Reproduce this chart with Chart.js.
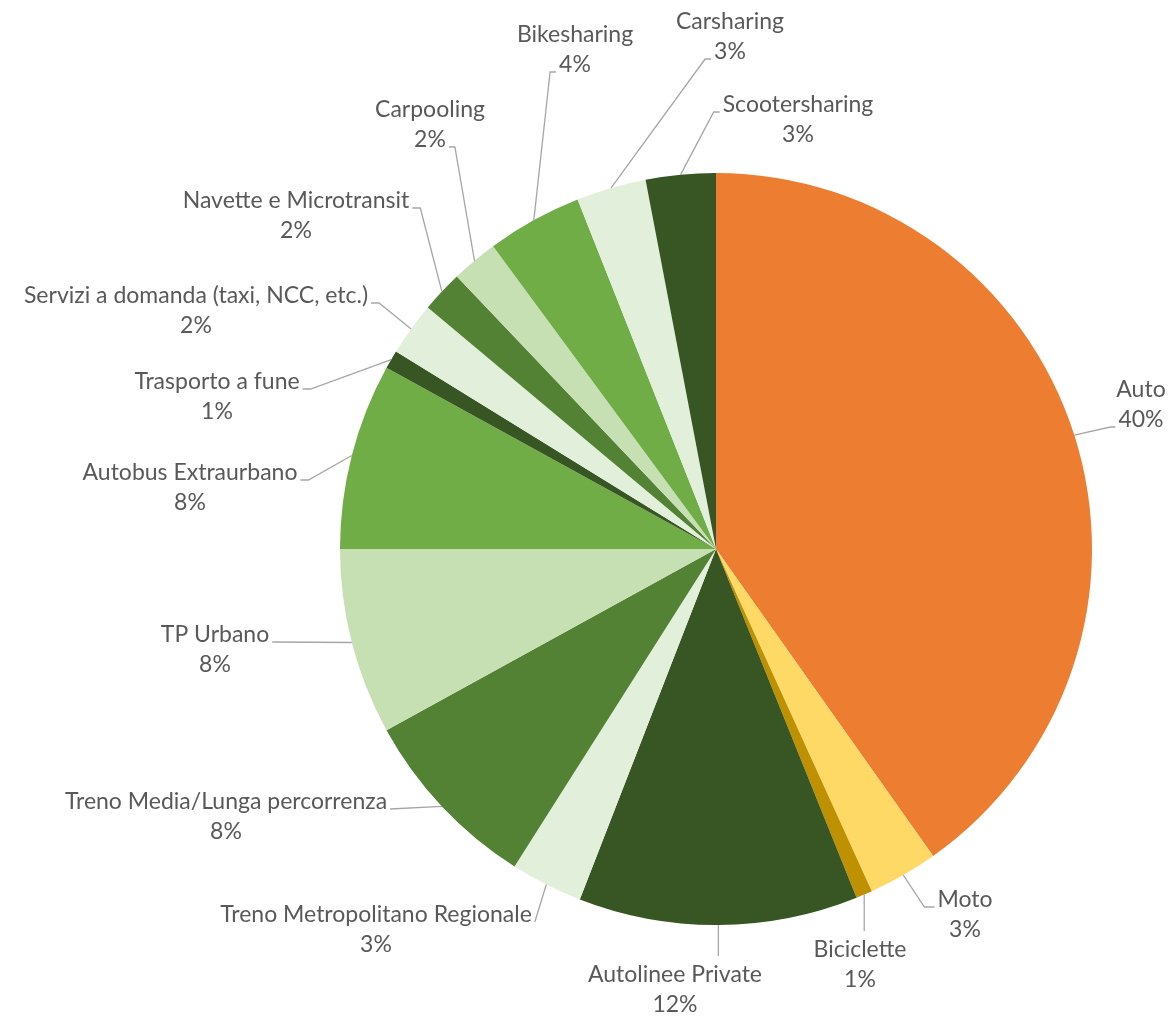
<!DOCTYPE html>
<html>
<head>
<meta charset="utf-8">
<script src="https://cdn.jsdelivr.net/npm/chart.js@4.4.0/dist/chart.umd.min.js"></script>
<style>
  html, body { margin: 0; padding: 0; background: #ffffff; }
  #chartBox { width: 1168px; height: 1016px; }
</style>
</head>
<body>
<div id="chartBox"><canvas id="pieChart" width="1168" height="1016"></canvas></div>
<script>
// Ripartizione modale
const categories = [
    "Auto", "Moto", "Biciclette", "Autolinee Private", "Treno Metropolitano Regionale",
    "Treno Media/Lunga percorrenza", "TP Urbano", "Autobus Extraurbano", "Trasporto a fune",
    "Servizi a domanda (taxi, NCC, etc.)", "Navette e Microtransit", "Carpooling",
    "Bikesharing", "Carsharing", "Scootersharing"
];
const shares = [40.2, 3.0, 0.7, 12.0, 3.1, 8.0, 8.0, 8.0, 0.8, 2.3, 1.8, 2.0, 4.1, 3.0, 3.0];
const sliceColors = [
    "#ED7D31", "#FFD966", "#BF9000", "#375623", "#E2EFDA",
    "#548235", "#C6E0B4", "#70AD47", "#375623", "#E2EFDA",
    "#548235", "#C6E0B4", "#70AD47", "#E2EFDA", "#375623"
];

// posizione etichette: [dx, dy dal centro della torta, lato attacco, riga, gomito]
const labelLayout = [
    [425, -159, "l", 1, 5],
    [249, 351, "l", 0, 10],
    [144, 401, "t", 0, 0],
    [-41, 426, "t", 0, 0],
    [-340, 366, "r", 0, 0],
    [-490, 253, "r", 0, 0],
    [-501, 86, "r", 0, 0],
    [-526, -76, "r", 0, 8],
    [-499, -167, "r", 0, 8],
    [-520, -253, "r", 0, 8],
    [-420, -348, "r", 0, 8],
    [-286, -439, "r", 1, 6],
    [-141, -514, "l", 1, 6],
    [14, -527, "l", 1, 6],
    [82, -444, "l", 0, 6]
];
const lineGap = 30;

// Etichette con linee guida, stile Excel
const leaderLabels = {
    id: "leaderLabels",
    afterDatasetsDraw(chart) {
        const ctx = chart.ctx;
        const meta = chart.getDatasetMeta(0);
        const total = shares.reduce((a, b) => a + b, 0);
        ctx.save();
        ctx.font = "23px Lato";
        ctx.textAlign = "center";
        ctx.textBaseline = "middle";
        meta.data.forEach((arc, i) => {
            const p = arc.getProps(["x", "y", "startAngle", "endAngle", "outerRadius"], true);
            const mid = (p.startAngle + p.endAngle) / 2;
            const ex = p.x + Math.cos(mid) * p.outerRadius;
            const ey = p.y + Math.sin(mid) * p.outerRadius;
            const [dx, dy, side, line, elbow] = labelLayout[i];
            const lx = p.x + dx;
            const ly = p.y + dy;
            const lines = [categories[i], Math.round(shares[i] / total * 100) + "%"];

            ctx.fillStyle = "#595959";
            lines.forEach((t, k) => ctx.fillText(t, lx, ly + k * lineGap));

            ctx.strokeStyle = "#A6A6A6";
            ctx.lineWidth = 1.3;
            ctx.beginPath();
            ctx.moveTo(ex, ey);
            if (side === "t") {
                ctx.lineTo(ex, ly - 19);
            } else {
                const w = ctx.measureText(lines[line]).width;
                const ty = ly + line * lineGap + 7;
                const tx = side === "l" ? lx - w / 2 - 3 : lx + w / 2 + 3;
                const kx = side === "l" ? tx - elbow : tx + elbow;
                ctx.lineTo(kx, ty);
                ctx.lineTo(tx, ty);
            }
            ctx.stroke();
        });
        ctx.restore();
    }
};

new Chart(document.getElementById("pieChart"), {
    type: "pie",
    data: {
        labels: categories,
        datasets: [
            {
                data: shares,
                backgroundColor: sliceColors,
                borderWidth: 0,
                hoverOffset: 0,
                offset: 0,
            },
        ],
    },
    options: {
        responsive: false,
        animation: false,
        layout: { padding: { left: 340, right: 76, top: 173, bottom: 91 } },
        plugins: {
            legend: { display: false },
            tooltip: { enabled: false },
        },
    },
    plugins: [leaderLabels],
});
</script>
</body>
</html>
